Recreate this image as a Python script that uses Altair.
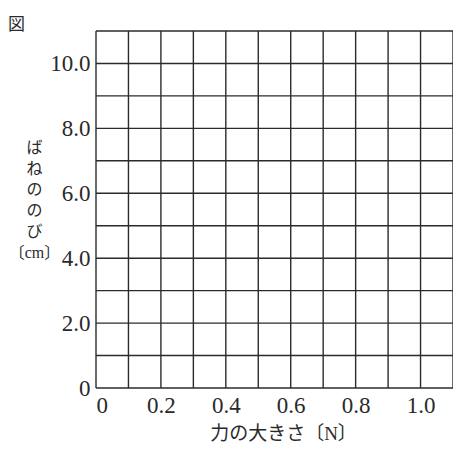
import altair as alt
import pandas as pd

# grid positions
x_grid = [0.0, 0.1, 0.2, 0.3, 0.4, 0.5, 0.6, 0.7, 0.8, 0.9, 1.0, 1.1]
y_grid = [0, 1, 2, 3, 4, 5, 6, 7, 8, 9, 10, 11]
# labelled ticks
x_ticks = [0.0, 0.2, 0.4, 0.6, 0.8, 1.0]
y_ticks = [0, 2, 4, 6, 8, 10]

x_title = "力の大きさ〔N〕"
y_title = ["ば", "ね", "の", "の", "び", "〔cm〕"]
fig_title = "図"

NUM_FONT = "Liberation Serif"
JP_FONT = "Liberation Serif, Noto Sans CJK JP"
LINE = "#2b2b2b"
TEXT = "#2a2a2a"

x_scale = alt.Scale(domain=[0, 1.1], nice=False, zero=False)
y_scale = alt.Scale(domain=[0, 11], nice=False, zero=False)

label_expr = "datum.value == 0 ? '0' : format(datum.value, '.1f')"

vlines = alt.Chart(pd.DataFrame({"x": x_grid})).mark_rule(
    color=LINE, strokeWidth=1.4
).encode(
    x=alt.X("x:Q", scale=x_scale,
            axis=alt.Axis(values=x_ticks, labelExpr=label_expr, grid=False, ticks=False,
                          domain=False, labelFont=NUM_FONT, labelFontSize=23,
                          labelColor=TEXT, labelPadding=6,
                          title=x_title, titleFont=JP_FONT, titleFontSize=19,
                          titleFontWeight="normal", titleColor=TEXT,
                          titleAnchor="start", titleAlign="center",
                          titleBaseline="alphabetic", titleX=187, titleY=51))
)

hlines = alt.Chart(pd.DataFrame({"y": y_grid})).mark_rule(
    color=LINE, strokeWidth=1.4
).encode(
    y=alt.Y("y:Q", scale=y_scale,
            axis=alt.Axis(values=y_ticks, labelExpr=label_expr, grid=False, ticks=False,
                          domain=False, labelFont=NUM_FONT, labelFontSize=23,
                          labelColor=TEXT, labelPadding=6,
                          title=y_title, titleFont=JP_FONT, titleFontSize=16,
                          titleFontWeight="normal", titleColor=TEXT,
                          titleAngle=0, titleAlign="center", titleBaseline="top",
                          titleLineHeight=21, titleX=-62, titleY=108))
)

chart = alt.layer(vlines, hlines).properties(
    width=357,
    height=357,
    autosize=alt.AutoSizeParams(type="none"),
    padding={"left": 88, "top": 23, "right": 0, "bottom": 56},
    title=alt.TitleParams(fig_title, anchor="start", frame="group", dx=-88,
                          offset=0, dy=4, baseline="top", font="Noto Sans CJK JP",
                          fontSize=17, fontWeight="normal", color=TEXT),
).configure_view(stroke=None)

chart.save("out.html", embed_options={"renderer": "svg", "actions": False})
